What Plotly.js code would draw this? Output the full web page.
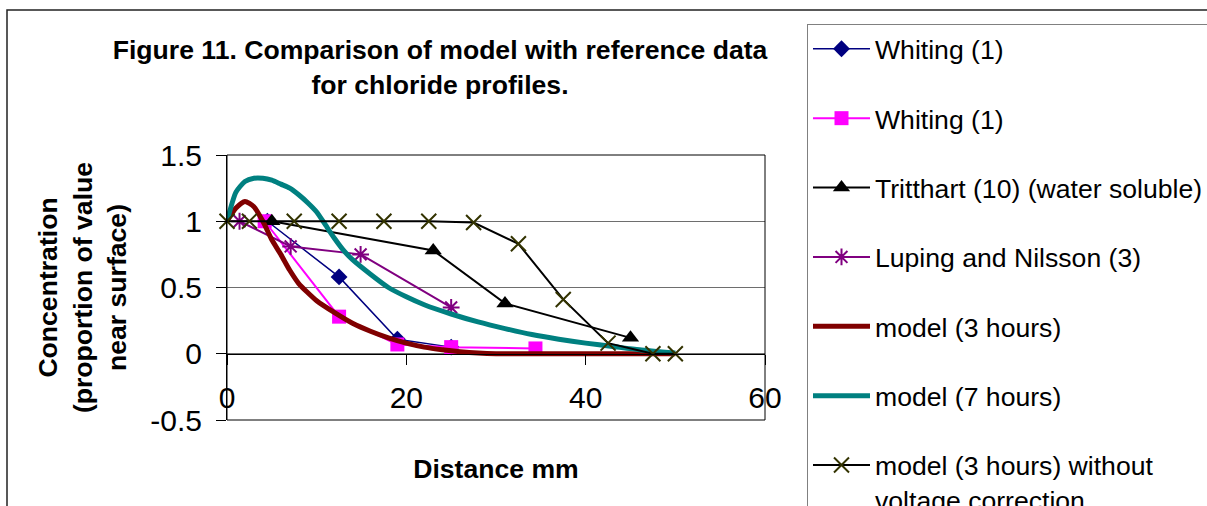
<!DOCTYPE html>
<html>
<head>
<meta charset="utf-8">
<script src="https://cdn.plot.ly/plotly-3.0.1.min.js"></script>
<style>html,body{margin:0;padding:0;background:#fff;}#chart{width:1207px;height:506px;}</style>
</head>
<body>
<div id="chart"></div>
<script>
// ---- data ----
const seriesNames = [
  'Whiting (1)',
  'Whiting (1)',
  'Tritthart (10) (water soluble)',
  'Luping and Nilsson (3)',
  'model (3 hours)',
  'model (7 hours)',
  'model (3 hours) without<br>voltage correction'
];

const whitingAX = [4.5, 12.5, 19, 25];
const whitingAY = [1.0, 0.58, 0.11, 0.05];

const whitingBX = [4.2, 12.5, 19, 25, 34.4];
const whitingBY = [1.0, 0.28, 0.07, 0.05, 0.04];

const tritthartX = [5, 23, 31, 45];
const tritthartY = [1.0, 0.78, 0.38, 0.12];

const lupingX = [1.4, 7.1, 14.9, 25];
const lupingY = [1.0, 0.81, 0.75, 0.35];

const model3X = [0, 1, 2, 3, 4, 5, 6, 7, 8, 10, 12, 14, 16, 18, 20, 22, 24, 26, 28, 30, 35, 40, 45, 50];
const model3Y = [1.0, 1.1, 1.15, 1.11, 1.0, 0.86, 0.75, 0.63, 0.53, 0.4, 0.31, 0.23, 0.17, 0.12, 0.08, 0.05, 0.03, 0.015, 0.005, 0, 0, 0, 0, 0];

const model7X = [0, 1, 2, 3, 4, 5, 6, 7, 8, 9, 10, 11, 12, 13, 14, 16, 18, 20, 22, 25, 28, 31, 34, 37, 40, 43, 46, 50];
const model7Y = [1.0, 1.22, 1.3, 1.325, 1.325, 1.31, 1.28, 1.25, 1.2, 1.14, 1.07, 0.97, 0.87, 0.78, 0.71, 0.6, 0.5, 0.43, 0.37, 0.3, 0.24, 0.19, 0.145, 0.11, 0.08, 0.055, 0.03, 0.005];

const noVoltX = [0, 2.5, 7.5, 12.5, 17.5, 22.5, 27.5, 32.5, 37.5, 42.5, 47.5, 50];
const noVoltY = [1, 1, 1, 1, 1, 1, 0.99, 0.83, 0.41, 0.08, 0, 0];

const xTickVals = [0, 20, 40, 60];
const xTickText = ['0', '20', '40', '60'];
const yTickVals = [-0.5, 0, 0.5, 1, 1.5];
const yTickText = ['-0.5', '0', '0.5', '1', '1.5'];

// ---- chart ----
const FONT = 'Liberation Sans, Arial, Helvetica, sans-serif';
const TXT = 26.6;

const traces = [
  {x: whitingAX, y: whitingAY, name: seriesNames[0], mode: 'lines+markers',
   line: {color: '#000080', width: 1.5}, marker: {symbol: 'diamond', size: 13, color: '#000080'}},
  {x: whitingBX, y: whitingBY, name: seriesNames[1], mode: 'lines+markers',
   line: {color: '#FF00FF', width: 2}, marker: {symbol: 'square', size: 14, color: '#FF00FF'}},
  {x: tritthartX, y: tritthartY, name: seriesNames[2], mode: 'lines+markers',
   line: {color: '#000000', width: 2}, marker: {symbol: 'triangle-up', size: 15, color: '#000000'}},
  {x: lupingX, y: lupingY, name: seriesNames[3], mode: 'lines+markers',
   line: {color: '#800080', width: 2}, marker: {symbol: 'asterisk-open', size: 14, color: '#800080', line: {color: '#800080', width: 2}}},
  {x: model3X, y: model3Y, name: seriesNames[4], mode: 'lines',
   line: {color: '#800000', width: 5, shape: 'spline', smoothing: 0.6}},
  {x: model7X, y: model7Y, name: seriesNames[5], mode: 'lines',
   line: {color: '#008080', width: 5, shape: 'spline', smoothing: 0.6}},
  {x: noVoltX, y: noVoltY, name: seriesNames[6], mode: 'lines+markers',
   line: {color: '#000000', width: 2}, marker: {symbol: 'x-thin-open', size: 15, color: '#333300', line: {color: '#333300', width: 2}}}
];
traces.forEach((t, i) => { t.type = 'scatter'; t.legendgroup = 'g' + i; t.cliponaxis = false; t.hoverinfo = 'skip'; });

// plot area in pixels: left 227, right 765, top 155, bottom 420
const L = 227, R = 765, T = 155, B = 420, W = 1207, H = 506;
const px = v => (v - L) / (R - L);
const py = v => (B - v) / (B - T);

const layout = {
  width: W, height: H,
  margin: {l: L, r: W - R, t: T, b: H - B, autoexpand: false},
  paper_bgcolor: '#ffffff', plot_bgcolor: '#ffffff',
  font: {family: FONT, color: '#000000', size: TXT},
  title: {
    text: 'Figure 11. Comparison of model with reference data<br>for chloride profiles.',
    font: {family: FONT, size: TXT, weight: 'bold', color: '#000000'},
    xref: 'paper', x: px(440), xanchor: 'center',
    yref: 'container', y: 1 - 59 / H, yanchor: 'middle'
  },
  xaxis: {
    range: [0, 60], tickmode: 'array', tickvals: xTickVals, ticktext: xTickText,
    anchor: 'free', position: 0.25,
    showline: true, linecolor: '#000000', linewidth: 1,
    ticks: 'outside', ticklen: 10, tickcolor: '#000000', tickwidth: 1,
    ticklabelstandoff: 7,
    showgrid: false, zeroline: false,
    tickfont: {family: FONT, size: 30, color: '#000000'},
    title: {text: 'Distance mm', font: {family: FONT, size: TXT, weight: 'bold'}, standoff: 46}
  },
  yaxis: {
    range: [-0.5, 1.5], tickmode: 'array', tickvals: yTickVals, ticktext: yTickText,
    showline: true, linecolor: '#000000', linewidth: 1,
    ticks: 'outside', ticklen: 10, tickcolor: '#000000', tickwidth: 1,
    ticklabelstandoff: 8,
    showgrid: true, gridcolor: '#6e6e6e', gridwidth: 1, zeroline: false,
    tickfont: {family: FONT, size: 30, color: '#000000'},
    title: {text: 'Concentration<br>(proportion of value<br>near surface)', font: {family: FONT, size: TXT, weight: 'bold'}, standoff: 15}
  },
  legend: {
    x: px(807), y: py(24), xanchor: 'left', yanchor: 'top',
    xref: 'paper', yref: 'paper',
    bgcolor: '#ffffff', bordercolor: '#808080', borderwidth: 1,
    font: {family: FONT, size: TXT, color: '#000000'},
    traceorder: 'grouped', tracegroupgap: 31.8, valign: 'top',
    itemwidth: 57, maxheight: 700
  },
  shapes: [
    {type: 'rect', xref: 'paper', yref: 'paper', x0: 0, x1: 1, y0: 0, y1: 1,
     line: {color: '#000000', width: 1}, fillcolor: 'rgba(0,0,0,0)'},
    {type: 'path', xref: 'paper', yref: 'paper',
     path: `M ${px(7)} ${py(520)} L ${px(7)} ${py(10)} L ${px(1220)} ${py(10)}`,
     line: {color: '#222222', width: 1.5}}
  ],
  showlegend: true
};

Plotly.newPlot('chart', traces, layout, {displayModeBar: false, staticPlot: true});
</script>
</body>
</html>
